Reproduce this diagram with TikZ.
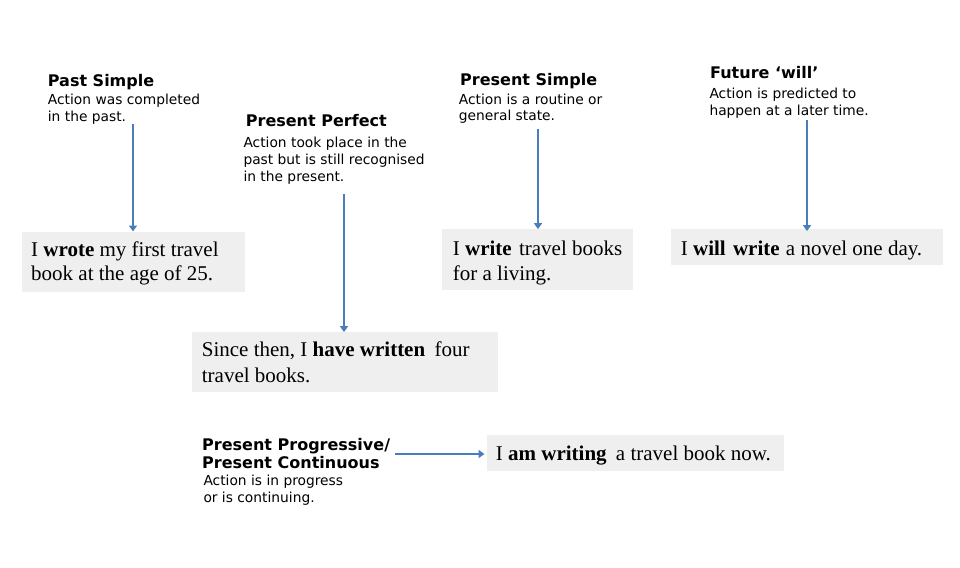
\documentclass[tikz,border=0pt]{standalone}
\usepackage{fontspec}
\usetikzlibrary{arrows.meta,fit}
\newfontfamily\hfont{DejaVu Sans}
\newfontfamily\sfont{Liberation Serif}
\definecolor{boxgray}{RGB}{239,239,239}
\definecolor{arrblue}{RGB}{74,126,187}
\tikzset{
  box/.style={rectangle, fill=boxgray, draw=none, inner sep=0pt},
  head/.style={anchor=base west, inner sep=0pt, font=\hfont\bfseries\fontsize{16}{18}\selectfont},
  desc/.style={anchor=base west, inner sep=0pt, font=\hfont\fontsize{13.8}{17}\selectfont},
  sent/.style={anchor=base west, inner sep=0pt, font=\sfont\fontsize{21}{25}\selectfont},
  arr/.style={draw=arrblue, line width=2pt, -{Triangle[length=6pt,width=8pt]}}
}
\begin{document}
\begin{tikzpicture}[x=1pt,y=-1pt]
\useasboundingbox (0,0) rectangle (960,567);
% boxes
\node[box, fit={(22.3,231.7) (245,292.3)}] (b1) {};
\node[box, fit={(442.3,229.3) (632.7,290)}] (b2) {};
\node[box, fit={(671.3,229.3) (943.3,264.5)}] (b3) {};
\node[box, fit={(192.3,332.3) (497.7,392.3)}] (b4) {};
\node[box, fit={(486.7,435) (784,470.7)}] (b5) {};
% sentences
\node[sent] (s1a) at (31,256.7) {I \textbf{wrote} my first travel};
\node[sent] (s1b) at (31,280.7) {book at the age of 25.};
\node[sent] (s2a) at (452.7,255) {I \textbf{write}\hspace{2pt} travel books};
\node[sent] (s2b) at (452.7,280) {for a living.};
\node[sent] (s3a) at (680.7,255) {I \textbf{will}\hspace{2pt} \textbf{write}\hspace{1pt} a novel one day.};
\node[sent] (s4a) at (201.7,356.7) {Since then, I \textbf{have written}\hspace{4pt} four};
\node[sent] (s4b) at (201.7,382.3) {travel books.};
\node[sent] (s5a) at (495.7,460) {I \textbf{am writing}\hspace{4pt} a travel book now.};
% headings and descriptions
\node[head] (h1) at (47.7,86.7) {Past Simple};
\node[desc] (d1a) at (47.7,105) {Action was completed};
\node[desc] (d1b) at (47.7,121.7) {in the past.};
\node[head] (h2) at (245.7,126.7) {Present Perfect};
\node[desc] (d2a) at (243.3,147.3) {Action took place in the};
\node[desc] (d2b) at (243.3,164) {past but is still recognised};
\node[desc] (d2c) at (243.3,181.3) {in the present.};
\node[head] (h3) at (460,86) {Present Simple};
\node[desc] (d3a) at (458.7,104.3) {Action is a routine or};
\node[desc] (d3b) at (458.7,121) {general state.};
\node[head] (h4) at (710,79) {Future ‘will’};
\node[desc] (d4a) at (709.3,99) {Action is predicted to};
\node[desc] (d4b) at (709.3,115.7) {happen at a later time.};
\node[head] (h5a) at (202,450) {Present Progressive/};
\node[head] (h5b) at (202,468.3) {Present Continuous};
\node[desc] (d5a) at (203.3,485.7) {Action is in progress};
\node[desc] (d5b) at (203.3,502.7) {or is continuing.};
% arrows
\coordinate (a1) at (133,124);
\coordinate (a2) at (344,194);
\coordinate (a3) at (538,129);
\coordinate (a4) at (807,120);
\coordinate (a5) at (395,454);
\draw[arr] (a1) -- (a1 |- b1.north);
\draw[arr] (a2) -- (a2 |- b4.north);
\draw[arr] (a3) -- (a3 |- b2.north);
\draw[arr] (a4) -- ([yshift=-2pt]a4 |- b3.north);
\draw[arr] (a5) -- ([xshift=-2pt]a5 -| b5.west);
\end{tikzpicture}
\end{document}
